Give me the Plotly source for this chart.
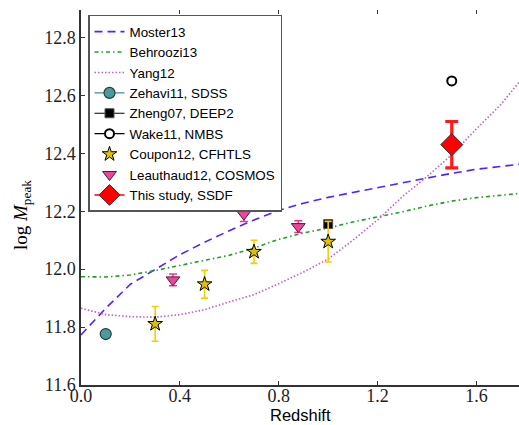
import plotly.graph_objects as go

# Model curves (redshift grid and log M_peak)
z_grid = [0.0, 0.1, 0.2, 0.3, 0.4, 0.5, 0.6, 0.7, 0.8, 0.9, 1.0, 1.1, 1.2, 1.3, 1.4, 1.5, 1.6, 1.7, 1.78]
moster13 = [11.773, 11.865, 11.948, 11.998, 12.050, 12.093, 12.133, 12.170, 12.203, 12.228, 12.248,
            12.265, 12.282, 12.298, 12.315, 12.331, 12.345, 12.355, 12.363]
behroozi13 = [11.974, 11.973, 11.980, 11.995, 12.013, 12.030, 12.048, 12.073, 12.103, 12.125, 12.142,
              12.163, 12.180, 12.198, 12.218, 12.235, 12.247, 12.256, 12.262]
yang12 = [11.865, 11.843, 11.836, 11.834, 11.843, 11.860, 11.887, 11.912, 11.950, 11.990, 12.035,
          12.100, 12.170, 12.250, 12.320, 12.395, 12.485, 12.570, 12.654]

# Observations
zehavi_z, zehavi_m = [0.10], [11.776]
zheng_z, zheng_m = [1.00], [12.156]
wake_z, wake_m = [1.50], [12.650]
coupon_z = [0.30, 0.50, 0.70, 1.00]
coupon_m = [11.811, 11.948, 12.060, 12.095]
coupon_err = [0.060, 0.048, 0.040, 0.070]
leau_z = [0.372, 0.659, 0.879]
leau_m = [11.963, 12.190, 12.147]
leau_err = [0.020, 0.025, 0.020]
ssdf_z, ssdf_m, ssdf_err = [1.50], [12.430], [0.080]

x_ticks = [0.0, 0.4, 0.8, 1.2, 1.6]
y_ticks = [11.6, 11.8, 12.0, 12.2, 12.4, 12.6, 12.8]

fig = go.Figure()
fig.add_trace(go.Scatter(x=z_grid, y=moster13, mode="lines", name="Moster13",
                         line=dict(color="#5522ff", width=1.6, dash="8px,5px")))
fig.add_trace(go.Scatter(x=z_grid, y=behroozi13, mode="lines", name="Behroozi13",
                         line=dict(color="#22a022", width=1.6, dash="4px,3px,1.5px,3px")))
fig.add_trace(go.Scatter(x=z_grid, y=yang12, mode="lines", name="Yang12",
                         line=dict(color="#c060c8", width=1.6, dash="1.5px,2px")))
fig.add_trace(go.Scatter(x=zehavi_z, y=zehavi_m, mode="lines+markers", name="Zehavi11, SDSS",
                         line=dict(color="#3f8f8f", width=1.2),
                         marker=dict(symbol="circle", size=11, color="#4d9a9a",
                                     line=dict(color="#1f3f3f", width=1.2))))
fig.add_trace(go.Scatter(x=zheng_z, y=zheng_m, mode="lines+markers", name="Zheng07, DEEP2",
                         line=dict(color="black", width=1.2),
                         marker=dict(symbol="square", size=9, color="black",
                                     line=dict(color="#555", width=1))))
fig.add_trace(go.Scatter(x=wake_z, y=wake_m, mode="lines+markers", name="Wake11, NMBS",
                         line=dict(color="black", width=1.2),
                         marker=dict(symbol="circle", size=9, color="white",
                                     line=dict(color="black", width=2))))
fig.add_trace(go.Scatter(x=coupon_z, y=coupon_m, mode="markers", name="Coupon12, CFHTLS",
                         error_y=dict(type="data", array=coupon_err, color="#f2d000",
                                      thickness=1.6, width=3.5),
                         marker=dict(symbol="star", size=11, color="#e0c000",
                                     line=dict(color="black", width=1))))
fig.add_trace(go.Scatter(x=leau_z, y=leau_m, mode="markers", name="Leauthaud12, COSMOS",
                         error_y=dict(type="data", array=leau_err, color="#ee3399",
                                      thickness=1.5, width=4),
                         marker=dict(symbol="triangle-down", size=12, color="#ee4499",
                                     line=dict(color="#442233", width=1))))
fig.add_trace(go.Scatter(x=ssdf_z, y=ssdf_m, mode="lines+markers", name="This study, SSDF",
                         line=dict(color="red", width=1.5),
                         error_y=dict(type="data", array=ssdf_err, color="#ff1a1a",
                                      thickness=3.2, width=6.5),
                         marker=dict(symbol="diamond", size=17, color="red",
                                     line=dict(color="#333", width=1))))

serif = "Liberation Serif, Times New Roman, serif"
sans = "Liberation Sans, Arial, sans-serif"

fig.update_layout(
    width=519, height=425,
    margin=dict(l=81, r=0, t=10, b=40),
    paper_bgcolor="white", plot_bgcolor="white",
    showlegend=True,
    legend=dict(x=0.016, y=0.987, xanchor="left", yanchor="top",
                bgcolor="white", bordercolor="#555", borderwidth=1.5,
                font=dict(family=sans, size=13.4, color="black"),
                traceorder="normal", itemwidth=30),
    xaxis=dict(range=[0, 1.772], tickvals=x_ticks, ticktext=[f"{v:.1f}" for v in x_ticks],
               ticks="inside", ticklen=4, tickcolor="#333", showgrid=False, zeroline=False,
               showline=True, linecolor="#333", linewidth=1.5, ticklabelstandoff=-6,
               tickfont=dict(family=serif, size=18, color="#222")),
    xaxis2=dict(range=[0, 1.772], overlaying="x", side="top", tickvals=x_ticks,
                showticklabels=False, ticks="inside", ticklen=4, tickcolor="#333",
                showgrid=False, zeroline=False, showline=False, matches="x"),
    yaxis=dict(range=[11.6, 12.895], tickvals=y_ticks, ticktext=[f"{v:.1f}" for v in y_ticks],
               ticks="inside", ticklen=4, tickcolor="#333", showgrid=False, zeroline=False,
               showline=True, linecolor="#333", linewidth=1.5,
               tickfont=dict(family=serif, size=18, color="#222")),
    annotations=[
        dict(text="log <i>M</i><sub>peak</sub>", textangle=-90,
             xref="paper", yref="paper", x=-0.135, y=0.453,
             xanchor="center", yanchor="middle", showarrow=False,
             font=dict(family=serif, size=19, color="black")),
        dict(text="Redshift", xref="paper", yref="paper", x=0.5, y=-0.081,
             xanchor="center", yanchor="middle", showarrow=False,
             font=dict(family=sans, size=16.5, color="black")),
    ],
)
# invisible trace to activate top axis ticks
fig.add_trace(go.Scatter(x=[0], y=[11.6], xaxis="x2", mode="markers",
                         marker=dict(opacity=0), showlegend=False, hoverinfo="skip"))

fig.write_html("out.html")
